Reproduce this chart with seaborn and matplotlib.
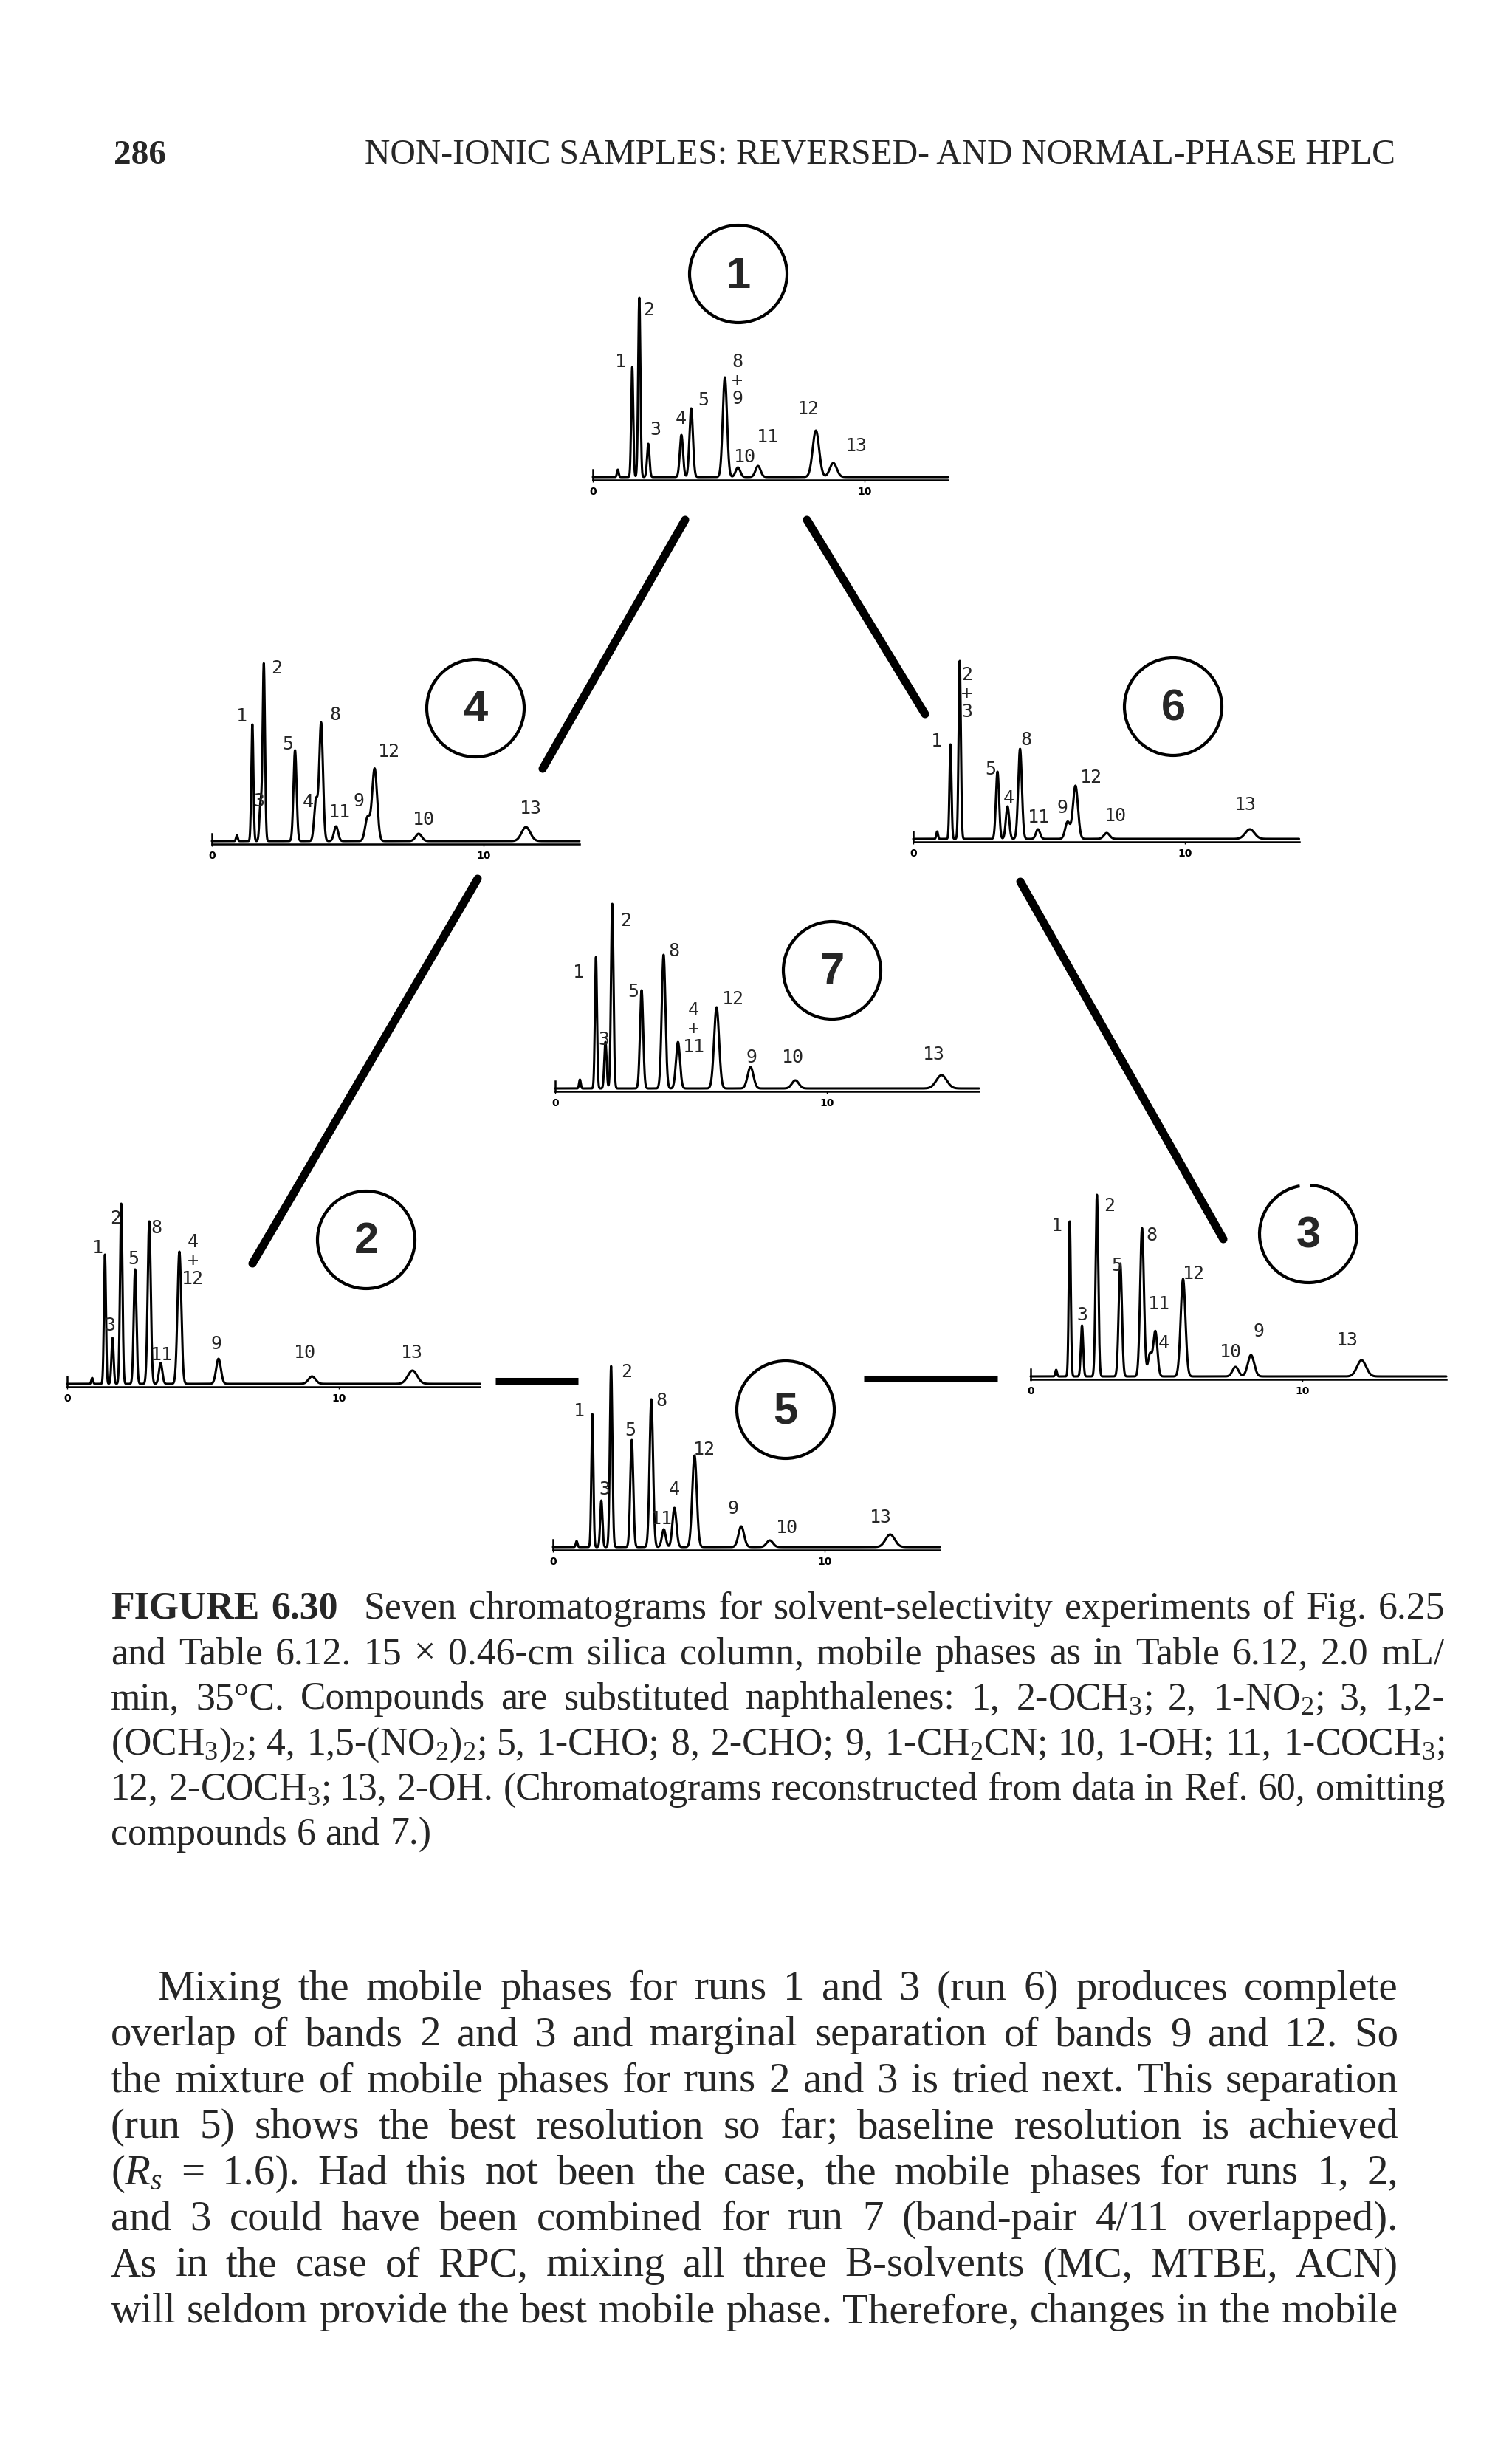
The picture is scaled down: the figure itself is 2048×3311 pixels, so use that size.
import numpy as np
import matplotlib
matplotlib.use('Agg')
import matplotlib.pyplot as plt
import seaborn as sns
from matplotlib.patches import Circle, Arc

# ---- peak tables ----
# retention time (min) and peak height (px above baseline); '' = injection blip
run1_names = ['', '1', '2', '3', '4', '5', '8\n+\n9', '10', '11', '12', '13']
run1_times = [0.92, 1.45, 1.71, 2.04, 3.26, 3.62, 4.86, 5.34, 6.08, 8.21, 8.85]
run1_heights = [10, 149, 243, 45, 57, 93, 135, 13, 15, 63, 19]

run2_names = ['', '1', '3', '2', '5', '8', '11', '4\n+\n12', '9', '10', '13']
run2_times = [0.92, 1.39, 1.67, 1.99, 2.50, 3.02, 3.44, 4.13, 5.57, 9.01, 12.71]
run2_heights = [8, 175, 62, 244, 155, 220, 28, 179, 34, 10, 18]

run3_names = ['', '1', '3', '2', '5', '8', '11', '4', '12', '10', '9', '13']
run3_times = [0.94, 1.44, 1.89, 2.44, 3.30, 4.10, 4.39, 4.59, 5.61, 7.54, 8.11, 12.18]
run3_heights = [9, 210, 69, 246, 153, 201, 30, 61, 132, 13, 29, 22]

run4_names = ['', '1', '3', '2', '5', '4', '8', '11', '9', '12', '10', '13']
run4_times = [0.92, 1.49, 1.79, 1.91, 3.06, 3.83, 4.02, 4.57, 5.73, 5.99, 7.61, 11.56]
run4_heights = [8, 158, 50, 240, 123, 55, 160, 20, 32, 98, 10, 19]

run5_names = ['', '1', '3', '2', '5', '8', '11', '4', '12', '9', '10', '13']
run5_times = [0.87, 1.45, 1.78, 2.14, 2.90, 3.62, 4.08, 4.47, 5.21, 6.93, 7.98, 12.41]
run5_heights = [8, 180, 63, 245, 145, 200, 24, 53, 124, 28, 9, 17]

run6_names = ['', '1', '2\n+\n3', '5', '4', '8', '11', '9', '12', '10', '13']
run6_times = [0.88, 1.37, 1.71, 3.10, 3.47, 3.93, 4.59, 5.68, 5.97, 7.12, 12.39]
run6_heights = [10, 128, 241, 91, 44, 122, 13, 23, 72, 8, 13]

run7_names = ['', '1', '3', '2', '5', '8', '4\n+\n11', '12', '9', '10', '13']
run7_times = [0.91, 1.50, 1.85, 2.10, 3.18, 3.99, 4.52, 5.94, 7.19, 8.84, 14.22]
run7_heights = [12, 178, 63, 250, 133, 181, 63, 110, 29, 11, 18]

# ---- where the peak numbers sit (min, px above baseline) ----
run1_label_pos = [None, (1.01, 157), (2.06, 227), (2.31, 65), (3.24, 80), (4.06, 105),
                  (5.32, 132), (5.60, 28), (6.44, 55), (7.94, 93), (9.71, 43)]
run2_label_pos = [None, (1.13, 185), (1.58, 80), (1.77, 225), (2.43, 170), (3.28, 212),
                  (3.49, 40), (4.62, 168), (5.49, 55), (8.75, 43), (12.68, 43)]
run3_label_pos = [None, (0.96, 205), (1.91, 84), (2.91, 232), (3.16, 151), (4.44, 192),
                  (4.72, 99), (4.91, 46), (6.00, 140), (7.35, 34), (8.39, 62), (11.66, 50)]
run4_label_pos = [None, (1.10, 170), (1.74, 55), (2.37, 235), (2.80, 132), (3.53, 54),
                  (4.54, 172), (4.70, 40), (5.41, 55), (6.51, 122), (7.80, 30), (11.74, 45)]
run5_label_pos = [None, (0.97, 185), (1.90, 79), (2.71, 238), (2.86, 159), (4.00, 199),
                  (4.00, 39), (4.47, 79), (5.58, 133), (6.64, 53), (8.60, 27), (12.07, 41)]
run6_label_pos = [None, (0.86, 133), (1.98, 198), (2.86, 95), (3.51, 56), (4.15, 135),
                  (4.63, 30), (5.49, 43), (6.56, 84), (7.44, 32), (12.24, 47)]
run7_label_pos = [None, (0.86, 158), (1.80, 67), (2.59, 228), (2.87, 132), (4.36, 187),
                  (5.10, 82), (6.55, 122), (7.24, 43), (8.75, 43), (13.94, 47)]

# page layout in pixels: origin x, baseline y, axis end (min)
run_layout = {1: (803, 647, 13.07), 2: (91, 1875, 15.2), 3: (1396, 1865, 15.3),
              4: (287, 1140, 13.53), 5: (749, 2096, 14.24), 6: (1237, 1137, 14.2),
              7: (752, 1475, 15.6)}
circle_centres = {1: (1000, 372), 2: (496, 1680), 3: (1772, 1672), 4: (644, 960),
                  5: (1064, 1910), 6: (1589, 958), 7: (1127, 1315)}
connectors = [((735, 1042), (928, 705)), ((1093, 705), (1253, 968)),
              ((647, 1191), (342, 1712)), ((1382, 1195), (1657, 1679))]
bars = [((671, 1871), (783, 1871)), ((1170, 1868), (1351, 1868))]

header_title = 'NON-IONIC SAMPLES: REVERSED- AND NORMAL-PHASE HPLC'
caption_lines = [
    'FIGURE 6.30 Seven chromatograms for solvent-selectivity experiments of Fig. 6.25',
    'and Table 6.12. 15 \u00d7 0.46-cm silica column, mobile phases as in Table 6.12, 2.0 mL/',
    'min, 35\u00b0C. Compounds are substituted naphthalenes: 1, 2-OCH$_3$; 2, 1-NO$_2$; 3, 1,2-',
    '(OCH$_3$)$_2$; 4, 1,5-(NO$_2$)$_2$; 5, 1-CHO; 8, 2-CHO; 9, 1-CH$_2$CN; 10, 1-OH; 11, 1-COCH$_3$;',
    '12, 2-COCH$_3$; 13, 2-OH. (Chromatograms reconstructed from data in Ref. 60, omitting',
    'compounds 6 and 7.)',
]
body_lines = [
    'Mixing the mobile phases for runs 1 and 3 (run 6) produces complete',
    'overlap of bands 2 and 3 and marginal separation of bands 9 and 12. So',
    'the mixture of mobile phases for runs 2 and 3 is tried next. This separation',
    '(run 5) shows the best resolution so far; baseline resolution is achieved',
    '($R_s$ = 1.6). Had this not been the case, the mobile phases for runs 1, 2,',
    'and 3 could have been combined for run 7 (band-pair 4/11 overlapped).',
    'As in the case of RPC, mixing all three B-solvents (MC, MTBE, ACN)',
    'will seldom provide the best mobile phase. Therefore, changes in the mobile',
]

W, H = 2048, 3312
PPM = 36.8  # px per minute, same for every trace
SERIF = 'Liberation Serif'

sns.set_theme(style='white')
plt.rcParams['font.family'] = [SERIF, 'DejaVu Serif']
plt.rcParams['mathtext.fontset'] = 'custom'
plt.rcParams['mathtext.rm'] = SERIF
plt.rcParams['mathtext.it'] = SERIF + ':italic'
plt.rcParams['mathtext.bf'] = SERIF + ':bold'

fig = plt.figure(figsize=(W / 100, H / 100), dpi=100)
fig.patch.set_facecolor('white')

# full-page overlay in pixel coordinates (y down)
page = fig.add_axes([0, 0, 1, 1])
page.set_xlim(0, W)
page.set_ylim(H, 0)
page.axis('off')
renderer = fig.canvas.get_renderer()


def add_run(times, heights, names, label_pos, origin_x, base_y, t_end):
    t_lo, t_hi = -0.4, t_end + 0.4
    y_lo, y_hi = -30, 280
    ax = fig.add_axes([(origin_x + t_lo * PPM) / W, (H - base_y + y_lo) / H,
                       (t_hi - t_lo) * PPM / W, (y_hi - y_lo) / H])
    ax.set_facecolor('none')
    tg = np.linspace(0, t_end, 9000)
    sig = np.zeros_like(tg)
    for t, h in zip(times, heights):
        s = 0.012 * t + 0.02  # band broadening with retention
        sig += h * np.exp(-0.5 * ((tg - t) / s) ** 2)
    sns.lineplot(x=tg, y=sig, ax=ax, color='black', linewidth=2.2,
                 estimator=None, sort=False)
    ax.set_xlim(t_lo, t_hi)
    ax.set_ylim(y_lo, y_hi)
    ax.spines['top'].set_visible(False)
    ax.spines['right'].set_visible(False)
    ax.spines['bottom'].set_position(('data', -4))
    ax.spines['bottom'].set_bounds(0, t_end)
    ax.spines['left'].set_position(('data', 0))
    ax.spines['left'].set_bounds(-4, 10)
    for sp in ['bottom', 'left']:
        ax.spines[sp].set_color('black')
        ax.spines[sp].set_linewidth(1.8)
    ax.set_yticks([])
    ax.set_xticks([0, 10])
    ax.set_xticklabels(['0', '10'], fontsize=10, fontweight='bold', family='DejaVu Sans')
    ax.tick_params(axis='x', bottom=True, length=2, width=1, pad=4, colors='black')
    ax.set_xlabel('')
    ax.set_ylabel('')
    for name, pos in zip(names, label_pos):
        if name and pos:
            ax.text(pos[0], pos[1], name, ha='center', va='center', fontsize=18,
                    family='DejaVu Sans Mono', linespacing=1.05, clip_on=False)
    return ax


# connectors and bars first, so they sit under the traces
for (a, b) in connectors:
    page.plot([a[0], b[0]], [a[1], b[1]], color='black', lw=8, solid_capstyle='round')
for (a, b) in bars:
    page.plot([a[0], b[0]], [a[1], b[1]], color='black', lw=6.5, solid_capstyle='butt')

for k, (cx, cy) in circle_centres.items():
    r = 66
    if k == 3:
        page.add_patch(Arc((cx, cy), 2 * r, 2 * r, theta1=272, theta2=620,
                           color='black', lw=3.0))
    else:
        page.add_patch(Circle((cx, cy), r, fill=False, ec='black', lw=3.0))
    page.text(cx, cy + 2, str(k), ha='center', va='center', fontsize=43,
              fontweight='bold', family='Liberation Sans')

runs = {
    1: (run1_times, run1_heights, run1_names, run1_label_pos),
    2: (run2_times, run2_heights, run2_names, run2_label_pos),
    3: (run3_times, run3_heights, run3_names, run3_label_pos),
    4: (run4_times, run4_heights, run4_names, run4_label_pos),
    5: (run5_times, run5_heights, run5_names, run5_label_pos),
    6: (run6_times, run6_heights, run6_names, run6_label_pos),
    7: (run7_times, run7_heights, run7_names, run7_label_pos),
}
for k, (t, h, n, p) in runs.items():
    add_run(t, h, n, p, *run_layout[k])


# ---- text helpers ----
def text_w(s, size, bold=False):
    t = page.text(0, 0, s, fontsize=size, fontweight='bold' if bold else 'normal')
    w = t.get_window_extent(renderer=renderer).width
    t.remove()
    return w


def set_block(lines, x0, x1, y0, lead, indent=0, bold_words=0, base=30, last_full=False):
    toks = []
    for i, line in enumerate(lines):
        words = line.split(' ')
        nb = bold_words if i == 0 else 0
        toks.append([(w, j < nb) for j, w in enumerate(words)])
    n_just = len(toks) if last_full else len(toks) - 1

    def gaps(i, n):
        g = [1.0] * (n - 1)
        if i == 0 and bold_words:
            g[bold_words - 1] = 2.3
        return g

    sp = text_w('a a', base) - text_w('aa', base)
    ratios = []
    for i, tk in enumerate(toks[:n_just]):
        wsum = sum(text_w(w, base, b) for w, b in tk)
        nat = wsum + sum(gaps(i, len(tk))) * sp
        ratios.append((x1 - x0 - (indent if i == 0 else 0)) / nat)
    size = base * min(ratios)
    sp = text_w('a a', size) - text_w('aa', size)
    for i, tk in enumerate(toks):
        xs = x0 + (indent if i == 0 else 0)
        widths = [text_w(w, size, b) for w, b in tk]
        g = gaps(i, len(tk))
        if i < n_just:
            unit = (x1 - xs - sum(widths)) / sum(g)
        else:
            unit = sp
        x = xs
        y = y0 + i * lead
        for j, ((w, b), ww) in enumerate(zip(tk, widths)):
            page.text(x, y, w, fontsize=size, fontweight='bold' if b else 'normal',
                      ha='left', va='baseline')
            if j < len(g):
                x += ww + g[j] * unit
    return size


# running head
page.text(154, 222, '286', fontsize=34, fontweight='bold', ha='left', va='baseline')
hw = text_w(header_title, 30)
page.text(494, 222, header_title, fontsize=30 * 1397 / hw, ha='left', va='baseline')

set_block(caption_lines, 150, 1957, 2192, 61.2, bold_words=2)
set_block(body_lines, 150, 1894, 2708, 62.4, indent=63, last_full=True)

fig.savefig('out.png', dpi=100, facecolor='white')
